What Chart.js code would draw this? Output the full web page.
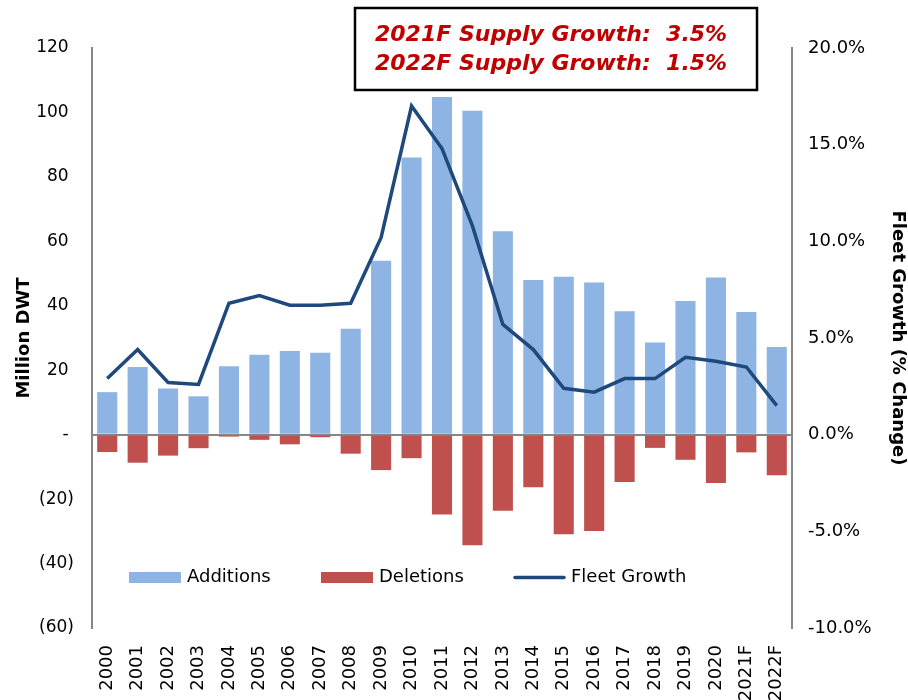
<!DOCTYPE html>
<html>
<head>
<meta charset="utf-8">
<script src="https://cdn.jsdelivr.net/npm/chart.js@4.4.1/dist/chart.umd.min.js"></script>
<style>
body{margin:0;background:#fff;}
</style>
</head>
<body>
<canvas id="supplyChart" width="908" height="700"></canvas>
<script>

// data
const years = ['2000','2001','2002','2003','2004','2005','2006','2007','2008','2009','2010','2011',
  '2012','2013','2014','2015','2016','2017','2018','2019','2020','2021F','2022F'];

const additions = [13.2,21.0,14.3,11.9,21.2,24.8,26.0,25.4,32.9,54.0,86.0,104.8,
  100.5,63.1,48.0,49.0,47.2,38.3,28.6,41.5,48.8,38.1,27.2];

const deletions = [-5.4,-8.7,-6.5,-4.2,-0.6,-1.6,-3.0,-0.8,-5.9,-11.0,-7.3,-24.8,
  -34.3,-23.6,-16.3,-30.9,-29.9,-14.7,-4.1,-7.8,-15.0,-5.5,-12.6];

// % change
const fleetGrowth = [2.9,4.4,2.7,2.6,6.8,7.2,6.7,6.7,6.8,10.2,17.0,14.8,
  10.8,5.7,4.4,2.4,2.2,2.9,2.9,4.0,3.8,3.5,1.5];

const supplyNotes = ['2021F Supply Growth:  3.5%', '2022F Supply Growth:  1.5%'];


const FONT = 'DejaVu Sans';
const GREY = '#868686';

Chart.defaults.font.family = FONT;
Chart.defaults.color = '#000';


// legend + the red note box
const extras = {
  id: 'extras',
  afterDraw(chart){
    const ctx = chart.ctx;
    ctx.save();

    // legend
    const ds = chart.data.datasets;
    const items = [
      {x:129, d:ds[1], type:'box'},
      {x:321, d:ds[2], type:'box'},
      {x:513, d:ds[0], type:'line'}
    ];
    ctx.font = '18px ' + FONT;
    ctx.textBaseline = 'middle';
    ctx.textAlign = 'left';
    items.forEach(it => {
      if(it.type === 'box'){
        ctx.fillStyle = it.d.backgroundColor;
        ctx.fillRect(it.x, 572, 52, 11);
      } else {
        ctx.strokeStyle = it.d.borderColor;
        ctx.lineWidth = 3.5;
        ctx.lineCap = 'round';
        ctx.beginPath();
        ctx.moveTo(it.x + 2, 577.5);
        ctx.lineTo(it.x + 51, 577.5);
        ctx.stroke();
      }
      ctx.fillStyle = '#000';
      ctx.fillText(it.d.label, it.x + 58, 577);
    });

    // note box
    ctx.fillStyle = '#fff';
    ctx.fillRect(355, 8, 402, 82);
    ctx.strokeStyle = '#000';
    ctx.lineWidth = 2.5;
    ctx.strokeRect(355, 8, 402, 82);
    ctx.fillStyle = '#C00000';
    ctx.font = 'italic bold 22px ' + FONT;
    ctx.fillText(supplyNotes[0], 375, 35);
    ctx.fillText(supplyNotes[1], 375, 64);

    ctx.restore();
  }
};


new Chart(document.getElementById('supplyChart'), {

  type: 'bar',

  data: {
    labels: years,
    datasets: [
      {
        type: 'line',
        label: 'Fleet Growth',
        data: fleetGrowth,
        yAxisID: 'y1',
        borderColor: '#1F497D',
        borderWidth: 3.5,
        pointRadius: 0,
        tension: 0,
        order: 0
      },
      {
        label: 'Additions',
        data: additions,
        backgroundColor: '#8EB4E3',
        yAxisID: 'y',
        barPercentage: 0.66,
        categoryPercentage: 1,
        order: 1
      },
      {
        label: 'Deletions',
        data: deletions,
        backgroundColor: '#C0504D',
        yAxisID: 'y',
        barPercentage: 0.66,
        categoryPercentage: 1,
        order: 1
      }
    ]
  },

  options: {
    responsive: false,
    animation: false,
    layout: { padding: { top: 48, left: 0, right: 0, bottom: 0 } },
    plugins: {
      legend: { display: false },
      tooltip: { enabled: false }
    },
    scales: {
      x: {
        stacked: true,
        grid: { display: false },
        border: { display: false },
        ticks: {
          autoSkip: false,
          minRotation: 90,
          maxRotation: 90,
          padding: 9,
          font: { size: 18 }
        },
        afterFit(s){ s.height = 72; }
      },
      y: {
        position: 'left',
        stacked: true,
        min: -60,
        max: 120,
        ticks: {
          stepSize: 20,
          padding: 18,
          font: { size: 17 },
          callback(v){
            if(v === 0) return '- ';
            return v < 0 ? '(' + (-v) + ')' : v + ' ';
          }
        },
        grid: {
          drawTicks: false,
          lineWidth: 2,
          color: c => (c.tick && c.tick.value === 0) ? GREY : 'transparent'
        },
        border: { color: GREY, width: 2 },
        title: {
          display: true,
          text: 'Million DWT',
          font: { size: 18, weight: 'bold', lineHeight: 1.2 },
          padding: { top: 14, bottom: 0 }
        },
        afterFit(s){ s.width = 92; }
      },
      y1: {
        position: 'right',
        min: -10,
        max: 20,
        ticks: {
          stepSize: 5,
          padding: 16,
          font: { size: 18 },
          callback(v){ return v.toFixed(1) + '%'; }
        },
        grid: { display: false, drawTicks: false },
        border: { color: GREY, width: 2 },
        title: {
          display: true,
          text: 'Fleet Growth (% Change)',
          font: { size: 18, weight: 'bold', lineHeight: 1.2 },
          padding: { top: 0, bottom: 0 }
        },
        afterFit(s){ s.width = 116; }
      }
    }
  },

  plugins: [extras]

});

</script>
</body>
</html>
